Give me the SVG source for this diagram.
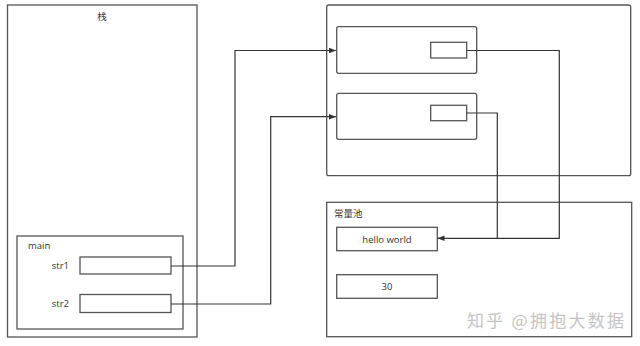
<svg xmlns="http://www.w3.org/2000/svg" width="640" height="346" viewBox="0 0 640 346">
<style>
.b{fill:#fff;stroke:#555;stroke-width:1.3}
.c{fill:none;stroke:#333;stroke-width:1.2}
.t{font-family:"Open Sans","Noto Sans CJK SC",sans-serif;font-size:9.5px;fill:#333}
.w{font-family:"Noto Sans CJK SC",sans-serif;font-size:17px;fill:#c4c4c4}
</style>
<defs>
<marker id="a" viewBox="0 0 10 10" refX="10" refY="5" markerWidth="7" markerHeight="7" markerUnits="userSpaceOnUse" orient="auto"><path d="M0,1 L10,5 L0,9 Z" fill="#333"/></marker>
</defs>
<rect width="640" height="346" fill="#fff"/>
<g id="stack">
<rect class="b" x="7.5" y="5" width="189.5" height="332"/>
<text class="t" x="102" y="20" text-anchor="middle">栈</text>
</g>
<g id="main">
<rect class="b" x="17" y="236" width="166" height="93"/>
<text class="t" x="28" y="249">main</text>
</g>
<g id="str1">
<text class="t" x="69" y="269" text-anchor="end">str1</text>
<rect class="b" x="80" y="257" width="91" height="17"/>
</g>
<g id="str2">
<text class="t" x="69" y="307" text-anchor="end">str2</text>
<rect class="b" x="80" y="294.5" width="91" height="18"/>
</g>
<g id="heap">
<rect class="b" x="326.7" y="5" width="304" height="170.7" rx="2"/>
</g>
<g id="obj1">
<rect class="b" x="336.7" y="26.7" width="140" height="46.6" rx="2"/>
<rect class="b" x="430.7" y="42.3" width="36" height="15.7"/>
</g>
<g id="obj2">
<rect class="b" x="336.7" y="93.3" width="140" height="46" rx="2"/>
<rect class="b" x="430.7" y="105.3" width="36" height="15.4"/>
</g>
<g id="pool">
<rect class="b" x="326.7" y="202.3" width="305" height="134.4"/>
<text class="t" x="334" y="217">常量池</text>
</g>
<g id="hello">
<rect class="b" x="336.7" y="227.3" width="100.6" height="23.4"/>
<text class="t" x="387" y="242.5" text-anchor="middle">hello world</text>
</g>
<g id="n30">
<rect class="b" x="336.7" y="274.7" width="100.6" height="23.6"/>
<text class="t" x="387" y="290" text-anchor="middle">30</text>
</g>
<g id="connectors">
<path class="c" d="M171,266 H235 V50.5 H336" marker-end="url(#a)"/>
<path class="c" d="M171,304 H270.7 V116.7 H336" marker-end="url(#a)"/>
<path class="c" d="M466.7,50.5 H559.3 V238.3 H437.5" marker-end="url(#a)"/>
<path class="c" d="M466.7,113 H497.3 V238.3"/>
</g>
<text class="w" x="467" y="327" textLength="157" lengthAdjust="spacing">知乎 @拥抱大数据</text>
</svg>
